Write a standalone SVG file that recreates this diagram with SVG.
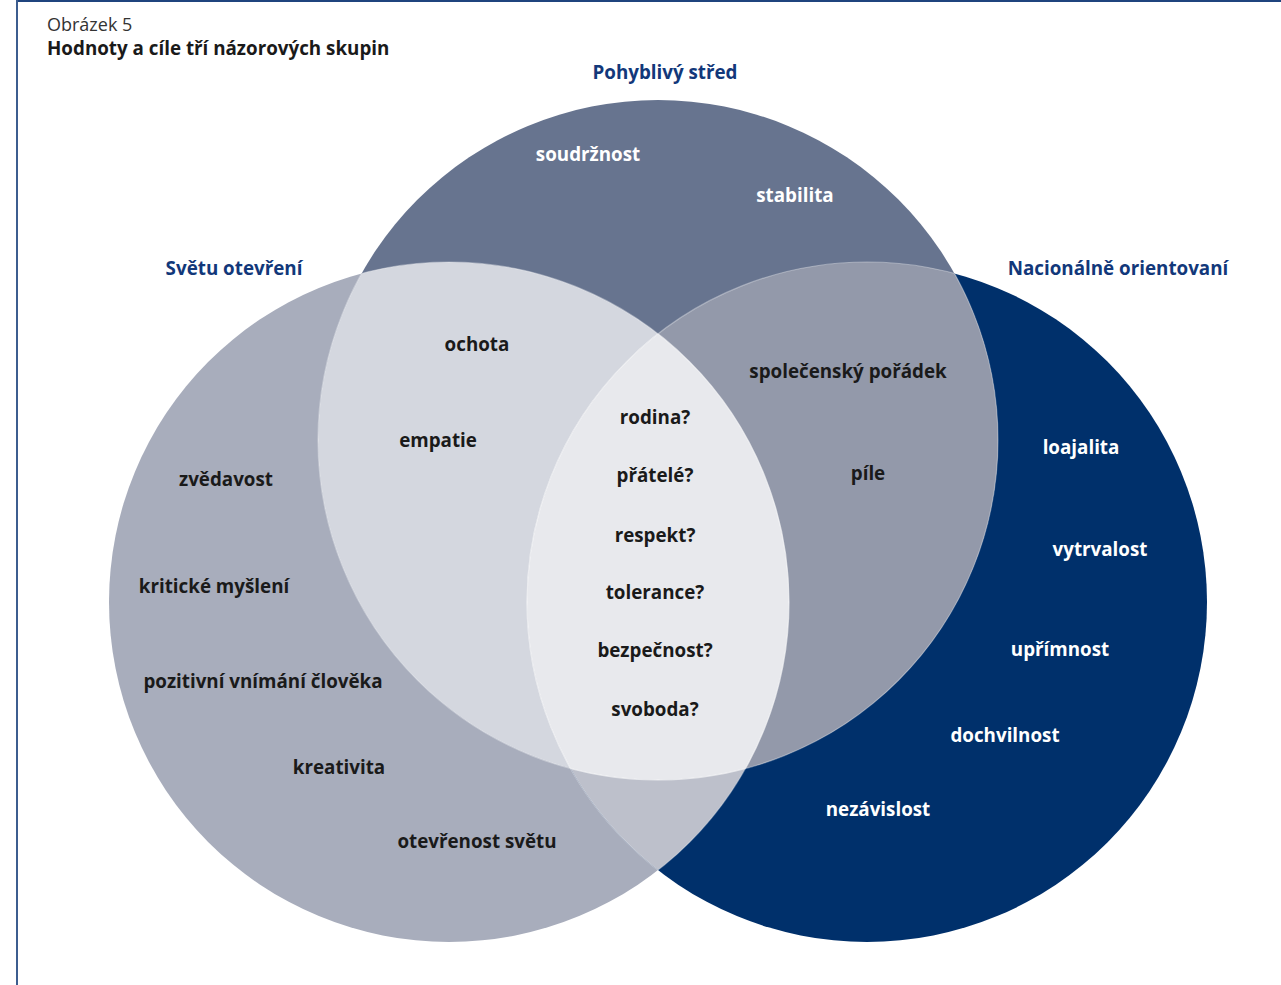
<svg xmlns="http://www.w3.org/2000/svg" width="1281" height="985" viewBox="0 0 1281 985">
<style>
text{font-family:"Open Sans","Noto Sans","Liberation Sans",sans-serif;font-weight:bold;font-size:18.8px;text-anchor:middle;fill:#1a1a1a}
.w{fill:#ffffff}
.h{fill:#12387a}
.edge{fill:none;stroke:#ffffff;stroke-opacity:0.35;stroke-width:1.2}
</style>
<defs>
<clipPath id="cT"><circle cx="658" cy="440" r="340"/></clipPath>
<clipPath id="cL"><circle cx="449" cy="602" r="340"/></clipPath>
<clipPath id="cR"><circle cx="867" cy="602" r="340"/></clipPath>
</defs>
<rect width="1281" height="985" fill="#ffffff"/>
<g id="frame">
<line x1="17" y1="1" x2="1281" y2="1" stroke="#1f447e" stroke-width="2"/>
<line x1="17" y1="0" x2="17" y2="985" stroke="#3c5d8f" stroke-width="2"/>
</g>
<g id="title">
<text x="47" y="31" style="text-anchor:start;font-weight:normal;font-size:18px;fill:#333333">Obrázek 5</text>
<text x="47" y="55" style="text-anchor:start">Hodnoty a cíle tří názorových skupin</text>
</g>
<g id="circle-left">
<circle cx="449" cy="602" r="340" fill="#a8adbc"/>
</g>
<g id="circle-right">
<circle cx="867" cy="602" r="340" fill="#00306b"/>
</g>
<g id="circle-top">
<circle cx="658" cy="440" r="340" fill="#67748f"/>
</g>
<g id="overlaps">
<g clip-path="url(#cL)"><circle cx="867" cy="602" r="340" fill="#bdc0cb"/></g>
<g clip-path="url(#cL)"><circle cx="658" cy="440" r="340" fill="#d4d7df"/></g>
<g clip-path="url(#cR)"><circle cx="658" cy="440" r="340" fill="#9399aa"/></g>
<g clip-path="url(#cL)"><g clip-path="url(#cR)"><circle cx="658" cy="440" r="340" fill="#e8e9ed"/></g></g>
</g>
<g id="edges">
<circle class="edge" cx="449" cy="602" r="340" clip-path="url(#cT)"/>
<circle class="edge" cx="867" cy="602" r="340" clip-path="url(#cT)"/>
<circle class="edge" cx="658" cy="440" r="340" clip-path="url(#cL)"/>
<circle class="edge" cx="658" cy="440" r="340" clip-path="url(#cR)"/>
<circle class="edge" cx="449" cy="602" r="340" clip-path="url(#cR)"/>
<circle class="edge" cx="867" cy="602" r="340" clip-path="url(#cL)"/>
</g>
<g id="labels">
<text class="h" x="665" y="79">Pohyblivý střed</text>
<text class="h" x="234" y="275">Světu otevření</text>
<text class="h" x="1118" y="275">Nacionálně orientovaní</text>
</g>
<g id="values-top">
<text class="w" x="588" y="161">soudržnost</text>
<text class="w" x="795" y="202">stabilita</text>
</g>
<g id="values-left">
<text x="477" y="351">ochota</text>
<text x="438" y="447">empatie</text>
<text x="226" y="486">zvědavost</text>
<text x="214" y="593">kritické myšlení</text>
<text x="263" y="688">pozitivní vnímání člověka</text>
<text x="339" y="774">kreativita</text>
<text x="477" y="848">otevřenost světu</text>
</g>
<g id="values-center">
<text x="655" y="424">rodina?</text>
<text x="655" y="482">přátelé?</text>
<text x="655" y="542">respekt?</text>
<text x="655" y="599">tolerance?</text>
<text x="655" y="657">bezpečnost?</text>
<text x="655" y="716">svoboda?</text>
</g>
<g id="values-right">
<text x="848" y="378">společenský pořádek</text>
<text x="868" y="480">píle</text>
<text class="w" x="1081" y="454">loajalita</text>
<text class="w" x="1100" y="556">vytrvalost</text>
<text class="w" x="1060" y="656">upřímnost</text>
<text class="w" x="1005" y="742">dochvilnost</text>
<text class="w" x="878" y="816">nezávislost</text>
</g>
</svg>
